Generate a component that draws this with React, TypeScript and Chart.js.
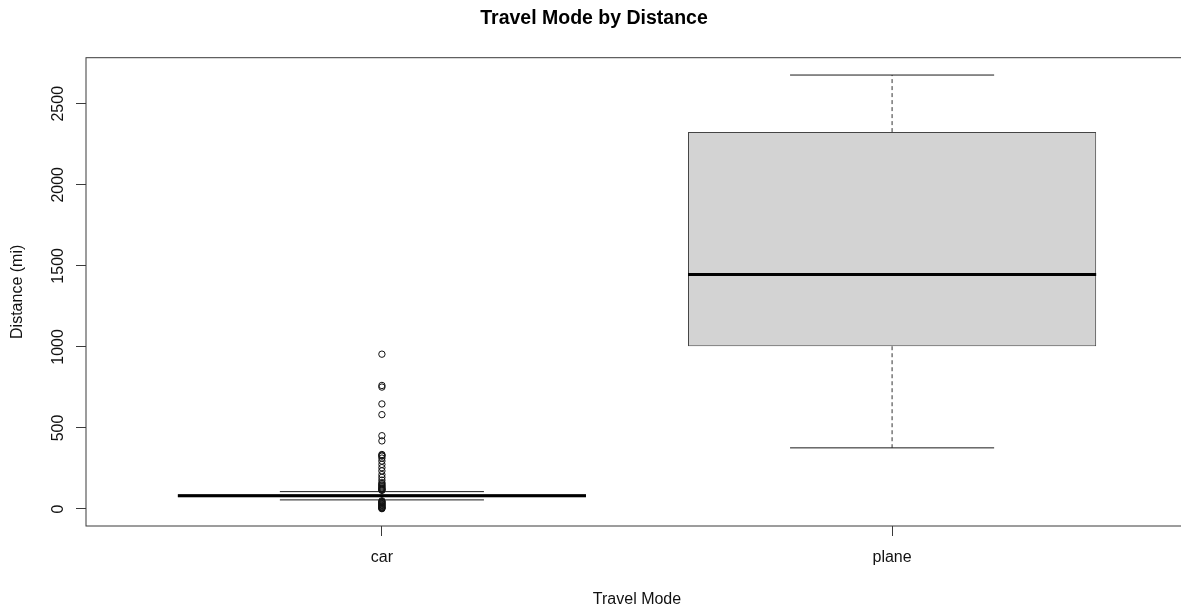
import React, { useEffect, useRef } from "react";
import { Chart, registerables } from "chart.js";

Chart.register(...registerables);

// ---- data ----
const CATEGORIES = ["car", "plane"];
const POSITIONS = [1, 2];
const Q1 = [72, 1004];
const MEDIAN = [81, 1446];
const Q3 = [91, 2325];
const WHISKER_LOW = [56, 377];
const WHISKER_HIGH = [107, 2677];
const CAR_OUTLIERS = [
  955, 762, 752, 648, 582, 452, 420, 336, 331, 326, 314, 296, 275, 255, 235,
  212, 195, 178, 162, 155, 148, 142, 136, 130, 125, 121, 118, 115, 50, 46, 42,
  38, 34, 30, 26, 22, 18, 14, 10, 7, 4, 2,
];
const PLANE_OUTLIERS: number[] = [];
const OUTLIERS = [CAR_OUTLIERS, PLANE_OUTLIERS];
const Y_TICKS = [0, 500, 1000, 1500, 2000, 2500];

const TITLE = "Travel Mode by Distance";
const X_TITLE = "Travel Mode";
const Y_TITLE = "Distance (mi)";

const BOX_WIDTH = 0.8;
const CAP_WIDTH = 0.4;

const FONT = "'Liberation Sans', Arial, Helvetica, sans-serif";
const LINE = "#3a3a3a";

// axis ranges (R style 4% extension)
const allVals = [
  ...WHISKER_LOW,
  ...WHISKER_HIGH,
  ...CAR_OUTLIERS,
  ...PLANE_OUTLIERS,
];
const dMin = Math.min(...allVals);
const dMax = Math.max(...allVals);
const Y_MIN = dMin - 0.04 * (dMax - dMin);
const Y_MAX = dMax + 0.04 * (dMax - dMin);
const X_MIN = 0.5 - 0.04 * CATEGORIES.length;
const X_MAX = CATEGORIES.length + 0.5 + 0.04 * CATEGORIES.length;

const framePlugin = {
  id: "frame",
  beforeDatasetsDraw(chart: any) {
    const { ctx, chartArea } = chart;
    ctx.save();
    ctx.strokeStyle = LINE;
    ctx.lineWidth = 1;
    ctx.strokeRect(
      chartArea.left,
      chartArea.top,
      chartArea.right - chartArea.left,
      chartArea.bottom - chartArea.top
    );
    ctx.restore();
  },
};

export default function App() {
  const ref = useRef<HTMLCanvasElement | null>(null);

  useEffect(() => {
    if (!ref.current) return;

    const medianPts: any[] = [];
    const whiskerPts: any[] = [];
    const capPts: any[] = [];
    const outlierPts: any[] = [];
    POSITIONS.forEach((p, i) => {
      medianPts.push(
        { x: p - BOX_WIDTH / 2, y: MEDIAN[i] },
        { x: p + BOX_WIDTH / 2, y: MEDIAN[i] },
        { x: p, y: null }
      );
      whiskerPts.push(
        { x: p, y: Q3[i] },
        { x: p, y: WHISKER_HIGH[i] },
        { x: p, y: null },
        { x: p, y: Q1[i] },
        { x: p, y: WHISKER_LOW[i] },
        { x: p, y: null }
      );
      capPts.push(
        { x: p - CAP_WIDTH / 2, y: WHISKER_HIGH[i] },
        { x: p + CAP_WIDTH / 2, y: WHISKER_HIGH[i] },
        { x: p, y: null },
        { x: p - CAP_WIDTH / 2, y: WHISKER_LOW[i] },
        { x: p + CAP_WIDTH / 2, y: WHISKER_LOW[i] },
        { x: p, y: null }
      );
      OUTLIERS[i].forEach((v) => outlierPts.push({ x: p, y: v }));
    });

    const lineBase = {
      type: "line" as const,
      pointRadius: 0,
      pointHoverRadius: 0,
      fill: false,
      tension: 0,
      spanGaps: false,
    };

    const chart = new Chart(ref.current, {
      type: "scatter",
      data: {
        datasets: [
          {
            ...lineBase,
            label: "median",
            data: medianPts,
            borderColor: "#000",
            borderWidth: 3,
            borderCapStyle: "butt",
            order: 0,
          } as any,
          {
            type: "scatter",
            label: "outliers",
            data: outlierPts,
            pointStyle: "circle",
            pointRadius: 3.2,
            pointBorderWidth: 1,
            borderColor: "#111",
            backgroundColor: "rgba(0,0,0,0)",
            order: 1,
          } as any,
          {
            ...lineBase,
            label: "caps",
            data: capPts,
            borderColor: "#1a1a1a",
            borderWidth: 1,
            order: 2,
          } as any,
          {
            ...lineBase,
            label: "whiskers",
            data: whiskerPts,
            borderColor: "#333",
            borderWidth: 1,
            borderDash: [4, 3],
            order: 3,
          } as any,
          {
            type: "bar",
            label: "box",
            data: POSITIONS.map((p, i) => ({ x: p, y: [Q1[i], Q3[i]] })),
            backgroundColor: "#d3d3d3",
            borderColor: "#444",
            borderWidth: 1,
            borderSkipped: false,
            barPercentage: 1,
            categoryPercentage: BOX_WIDTH,
            order: 4,
          } as any,
        ],
      },
      options: {
        responsive: false,
        animation: false,
        devicePixelRatio: 1,
        events: [],
        layout: { padding: { left: 0, right: 86, top: 0, bottom: 0 } },
        plugins: {
          legend: { display: false },
          tooltip: { enabled: false },
          title: {
            display: true,
            text: TITLE,
            color: "#000",
            font: { family: FONT, size: 19.5, weight: "bold" },
            padding: { top: 7, bottom: 27.3 },
          },
        },
        scales: {
          x: {
            type: "linear",
            min: X_MIN,
            max: X_MAX,
            offset: false,
            afterBuildTicks: (scale: any) => {
              scale.ticks = POSITIONS.map((v) => ({ value: v }));
            },
            afterFit: (scale: any) => {
              scale.height = 84;
            },
            ticks: {
              autoSkip: false,
              maxRotation: 0,
              minRotation: 0,
              padding: 12,
              color: "#111",
              font: { family: FONT, size: 16 },
              callback: (v: any) => {
                const idx = POSITIONS.indexOf(Number(v));
                return idx >= 0 ? CATEGORIES[idx] : "";
              },
            },
            grid: {
              display: true,
              offset: false,
              drawOnChartArea: false,
              drawTicks: true,
              tickLength: 10,
              color: LINE,
            },
            border: { display: false },
            title: {
              display: true,
              text: X_TITLE,
              color: "#111",
              font: { family: FONT, size: 16 },
              padding: { top: 0, bottom: 1 },
            },
          },
          y: {
            type: "linear",
            min: Y_MIN,
            max: Y_MAX,
            afterBuildTicks: (scale: any) => {
              scale.ticks = Y_TICKS.map((v) => ({ value: v }));
            },
            afterFit: (scale: any) => {
              scale.width = 86;
            },
            ticks: {
              autoSkip: false,
              minRotation: 90,
              maxRotation: 90,
              crossAlign: "center",
              padding: 0,
              color: "#111",
              font: { family: FONT, size: 16 },
              callback: (v: any) => String(v),
            },
            grid: {
              display: true,
              drawOnChartArea: false,
              drawTicks: true,
              tickLength: 10,
              color: LINE,
            },
            border: { display: false },
            title: {
              display: true,
              text: Y_TITLE,
              color: "#111",
              font: { family: FONT, size: 16 },
              padding: { top: 8, bottom: 0 },
            },
          },
        },
      } as any,
      plugins: [framePlugin],
    });

    return () => chart.destroy();
  }, []);

  return (
    <div
      style={{
        position: "fixed",
        left: 0,
        top: 0,
        width: 1181,
        height: 610,
        overflow: "hidden",
        background: "#fff",
      }}
    >
      <canvas ref={ref} width={1274} height={610} style={{ display: "block" }} />
    </div>
  );
}
